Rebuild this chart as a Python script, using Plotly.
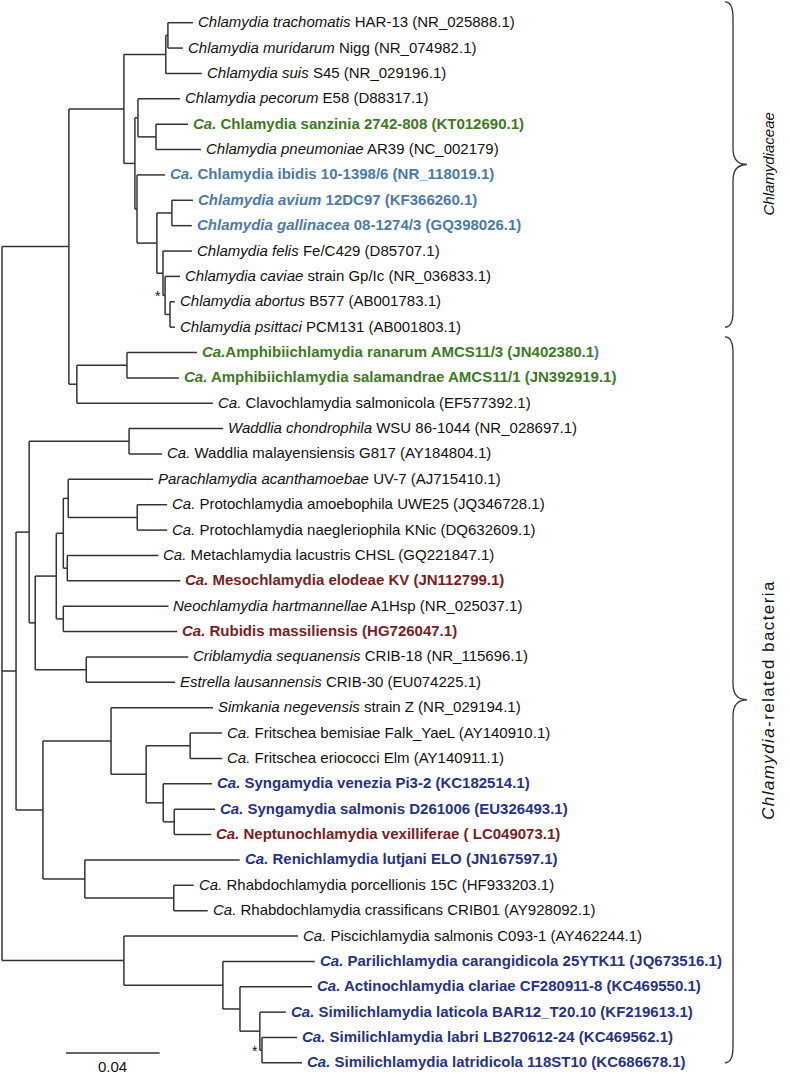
import plotly.graph_objects as go

# ---------------- data ----------------
# Newick tree; leaves are numbered by their top-to-bottom order, branch lengths in substitutions/site
NEWICK = """
(
 (
  (
   ((0:0.0107,1:0.0064):0.0009,2:0.0154):0.0179,
   (
    (3:0.0179,(4:0.0137,5:0.0192):0.0077):0.0013,
    (6:0.0120,((7:0.0090,8:0.0085):0.0064,(9:0.0124,(10:0.0064,(11:0.0021,12:0.0021):0.0021):0.0009):0.0026):0.0085):0.0009
   ):0.0047
  ):0.0235,
  ((13:0.0299,14:0.0222):0.0214,15:0.0581):0.0034
 ):0.0286,
 (
  (
   (16:0.0402,17:0.0141):0.0427,
   (
    (
     (
      (18:0.0363,(19:0.0128,20:0.0128):0.0295):0.0021,
      (21:0.0389,22:0.0483):0.0017
     ):0.0030,
     (23:0.0449,24:0.0487):0.0030
    ):0.0090,
    (25:0.0436,26:0.0380):0.0218
   ):0.0026
  ):0.0056,
  (
   (27:0.0436,((28:0.0137,29:0.0137):0.0188,(30:0.0209,(31:0.0175,32:0.0158):0.0047):0.0073):0.0150):0.0291,
   (33:0.0662,(34:0.0085,35:0.0145):0.0380):0.0179
  ):0.0115
 ):0.0060,
 (36:0.0744,(37:0.0393,(38:0.0308,(39:0.0111,(40:0.0150,41:0.0171):0.0009):0.0085):0.0073):0.0423):0.0521
);
"""

LEAF_LABELS = [
    "<i>Chlamydia trachomatis</i> HAR-13 (NR_025888.1)",
    "<i>Chlamydia muridarum</i> Nigg (NR_074982.1)",
    "<i>Chlamydia suis</i> S45 (NR_029196.1)",
    "<i>Chlamydia pecorum</i> E58 (D88317.1)",
    "<i>Ca.</i> Chlamydia sanzinia 2742-808 (KT012690.1)",
    "<i>Chlamydia pneumoniae</i> AR39 (NC_002179)",
    "<i>Ca.</i> Chlamydia ibidis 10-1398/6 (NR_118019.1)",
    "<i>Chlamydia avium</i> 12DC97 (KF366260.1)",
    "<i>Chlamydia gallinacea</i> 08-1274/3 (GQ398026.1)",
    "<i>Chlamydia felis</i> Fe/C429 (D85707.1)",
    "<i>Chlamydia caviae</i> strain Gp/Ic (NR_036833.1)",
    "<i>Chlamydia abortus</i> B577 (AB001783.1)",
    "<i>Chlamydia psittaci</i> PCM131 (AB001803.1)",
    "<i>Ca.</i>Amphibiichlamydia ranarum AMCS11/3 (JN402380.1<span style='color:#4a7aa8'>)</span>",
    "<i>Ca.</i> Amphibiichlamydia salamandrae AMCS11/1 (JN392919.1)",
    "<i>Ca.</i> Clavochlamydia salmonicola (EF577392.1)",
    "<i>Waddlia chondrophila</i> WSU 86-1044 (NR_028697.1)",
    "<i>Ca.</i> Waddlia malayensiensis G817 (AY184804.1)",
    "<i>Parachlamydia acanthamoebae</i> UV-7 (AJ715410.1)",
    "<i>Ca.</i> Protochlamydia amoebophila UWE25 (JQ346728.1)",
    "<i>Ca.</i> Protochlamydia naegleriophila KNic (DQ632609.1)",
    "<i>Ca.</i> Metachlamydia lacustris CHSL (GQ221847.1)",
    "<i>Ca.</i> Mesochlamydia elodeae KV (JN112799.1)",
    "<i>Neochlamydia hartmannellae</i> A1Hsp (NR_025037.1)",
    "<i>Ca.</i> Rubidis massiliensis (HG726047.1)",
    "<i>Criblamydia sequanensis</i> CRIB-18 (NR_115696.1)",
    "<i>Estrella lausannensis</i> CRIB-30 (EU074225.1)",
    "<i>Simkania negevensis</i> strain Z (NR_029194.1)",
    "<i>Ca.</i> Fritschea bemisiae Falk_YaeL (AY140910.1)",
    "<i>Ca.</i> Fritschea eriococci Elm (AY140911.1)",
    "<i>Ca.</i> Syngamydia venezia Pi3-2 (KC182514.1)",
    "<i>Ca.</i> Syngamydia salmonis D261006 (EU326493.1)",
    "<i>Ca.</i> Neptunochlamydia vexilliferae ( LC049073.1)",
    "<i>Ca.</i> Renichlamydia lutjani ELO (JN167597.1)",
    "<i>Ca.</i> Rhabdochlamydia porcellionis 15C (HF933203.1)",
    "<i>Ca.</i> Rhabdochlamydia crassificans CRIB01 (AY928092.1)",
    "<i>Ca.</i> Piscichlamydia salmonis C093-1 (AY462244.1)",
    "<i>Ca.</i> Parilichlamydia carangidicola 25YTK11 (JQ673516.1)",
    "<i>Ca.</i> Actinochlamydia clariae CF280911-8 (KC469550.1)",
    "<i>Ca.</i> Similichlamydia laticola BAR12_T20.10 (KF219613.1)",
    "<i>Ca.</i> Similichlamydia labri LB270612-24 (KC469562.1)",
    "<i>Ca.</i> Similichlamydia latridicola 118ST10 (KC686678.1)",
]

# highlight group of each leaf ('' = plain black)
LEAF_GROUP = [
    "", "", "", "", "green", "", "steel", "steel", "steel", "", "", "", "",
    "green", "green", "", "", "", "", "", "", "", "red", "", "red", "", "",
    "", "", "", "navy", "navy", "red", "navy", "", "", "",
    "navy", "navy", "navy", "navy", "navy",
]

GROUP_COLORS = {"": "#111111", "green": "#3b7b22", "steel": "#4a7aa8",
                "navy": "#26318a", "red": "#7a1d1d"}

# clades marked with an asterisk (MRCA of the two leaves)
STAR_CLADES = [(10, 12), (40, 41)]

# bracketed groups: (label, first leaf, last leaf)
BRACKETS = [
    ("<i>Chlamydiaceae</i>", 0, 12),
    ("<span style='letter-spacing:1.4px'><i>Chlamydia</i>-related bacteria</span>", 13, 41),
]

SCALE_LEN = 0.04
SCALE_LABEL = "0.04"

# ---------------- tree parsing ----------------
def parse_newick(s):
    s = "".join(s.split())
    pos = 0

    def node():
        nonlocal pos
        n = {"children": [], "name": None, "len": 0.0}
        if s[pos] == "(":
            pos += 1
            while True:
                n["children"].append(node())
                if s[pos] == ",":
                    pos += 1
                    continue
                if s[pos] == ")":
                    pos += 1
                    break
        else:
            start = pos
            while s[pos] not in ":,);":
                pos += 1
            n["name"] = s[start:pos]
        if s[pos] == ":":
            pos += 1
            start = pos
            while s[pos] not in ",);":
                pos += 1
            n["len"] = float(s[start:pos])
        return n

    return node()


root = parse_newick(NEWICK)


def layout(n, x0):
    n["x"] = x0 + n["len"]
    if n["children"]:
        for c in n["children"]:
            layout(c, n["x"])
        n["y"] = (n["children"][0]["y"] + n["children"][-1]["y"]) / 2
        n["leaves"] = set().union(*[c["leaves"] for c in n["children"]])
    else:
        n["y"] = float(int(n["name"]))
        n["leaves"] = {int(n["name"])}


root["len"] = 0.0
layout(root, 0.0)

xs, ys = [], []
tips = {}
nodes = []


def collect(n, parent_x=None):
    nodes.append(n)
    if parent_x is not None:
        xs.extend([parent_x, n["x"], None])
        ys.extend([n["y"], n["y"], None])
    if n["children"]:
        xs.extend([n["x"], n["x"], None])
        ys.extend([n["children"][0]["y"], n["children"][-1]["y"], None])
        for c in n["children"]:
            collect(c, n["x"])
    else:
        tips[int(n["name"])] = (n["x"], n["y"])


collect(root)

# ---------------- figure ----------------
W, H = 790, 1074
PX_PER_UNIT = 2340.0
ROW_PX = 25.37
TOP_PX = 22.7
ROOT_PX = 2.0


def px2x(px):
    return (px - ROOT_PX) / PX_PER_UNIT


def px2y(py):
    return (py - TOP_PX) / ROW_PX


FONT = "Liberation Sans, Arial, Helvetica, sans-serif"

fig = go.Figure()
fig.add_trace(go.Scatter(x=xs, y=ys, mode="lines",
                         line=dict(color="#333333", width=1.5),
                         hoverinfo="skip", showlegend=False))

annotations = []
for i, lab in enumerate(LEAF_LABELS):
    tx, ty = tips[i]
    grp = LEAF_GROUP[i]
    text = f"<b>{lab}</b>" if grp else lab
    annotations.append(dict(x=tx, y=ty, xref="x", yref="y", text=text,
                            showarrow=False, xanchor="left", yanchor="middle",
                            xshift=3, yshift=1,
                            font=dict(family=FONT, size=15, color=GROUP_COLORS[grp])))

for a, b in STAR_CLADES:
    target = {a, b}
    best = None
    for n in nodes:
        if n["children"] and target <= n["leaves"]:
            if best is None or len(n["leaves"]) < len(best["leaves"]):
                best = n
    annotations.append(dict(x=best["x"], y=best["y"], xref="x", yref="y", text="*",
                            showarrow=False, xanchor="right", yanchor="middle",
                            xshift=-2, yshift=-1,
                            font=dict(family=FONT, size=14, color="#111111")))

# scale bar
sb_x0 = px2x(66)
sb_y = px2y(1053)
fig.add_trace(go.Scatter(x=[sb_x0, sb_x0 + SCALE_LEN], y=[sb_y, sb_y], mode="lines",
                         line=dict(color="#333333", width=1.5),
                         hoverinfo="skip", showlegend=False))
annotations.append(dict(x=sb_x0 + SCALE_LEN / 2, y=sb_y, xref="x", yref="y",
                        text=SCALE_LABEL, showarrow=False, xanchor="center",
                        yanchor="top", yshift=-3,
                        font=dict(family=FONT, size=15, color="#111111")))

# brackets
shapes = []
bx0, bx1, bx2 = px2x(725), px2x(733), px2x(747)
r = 16 / ROW_PX
pads = [(-0.82, 0.0), (-0.62, 0.0)]
label_sizes = [15, 17]
for (label, f, l), (ptop, pbot), fs in zip(BRACKETS, pads, label_sizes):
    top = f + ptop
    bot = l + pbot
    mid = (top + bot) / 2
    path = (f"M {bx0},{top} Q {bx1},{top} {bx1},{top + r} "
            f"L {bx1},{mid - r} Q {bx1},{mid} {bx2},{mid} "
            f"Q {bx1},{mid} {bx1},{mid + r} "
            f"L {bx1},{bot - r} Q {bx1},{bot} {bx0},{bot}")
    shapes.append(dict(type="path", path=path, xref="x", yref="y",
                       line=dict(color="#333333", width=1.3)))
    annotations.append(dict(x=px2x(769), y=mid, xref="x", yref="y", text=label,
                            showarrow=False, textangle=-90, xanchor="center",
                            yanchor="middle",
                            font=dict(family=FONT, size=fs, color="#111111")))

fig.update_layout(
    width=W, height=H,
    margin=dict(l=0, r=0, t=0, b=0),
    paper_bgcolor="white", plot_bgcolor="white",
    xaxis=dict(range=[px2x(0), px2x(W)], visible=False, fixedrange=True),
    yaxis=dict(range=[px2y(H), px2y(0)], visible=False, fixedrange=True),
    annotations=annotations,
    shapes=shapes,
    showlegend=False,
)

fig.write_html("out.html",
               config={"displayModeBar": False, "staticPlot": True},
               post_script="document.body.style.margin='0';document.body.style.overflow='hidden';")
